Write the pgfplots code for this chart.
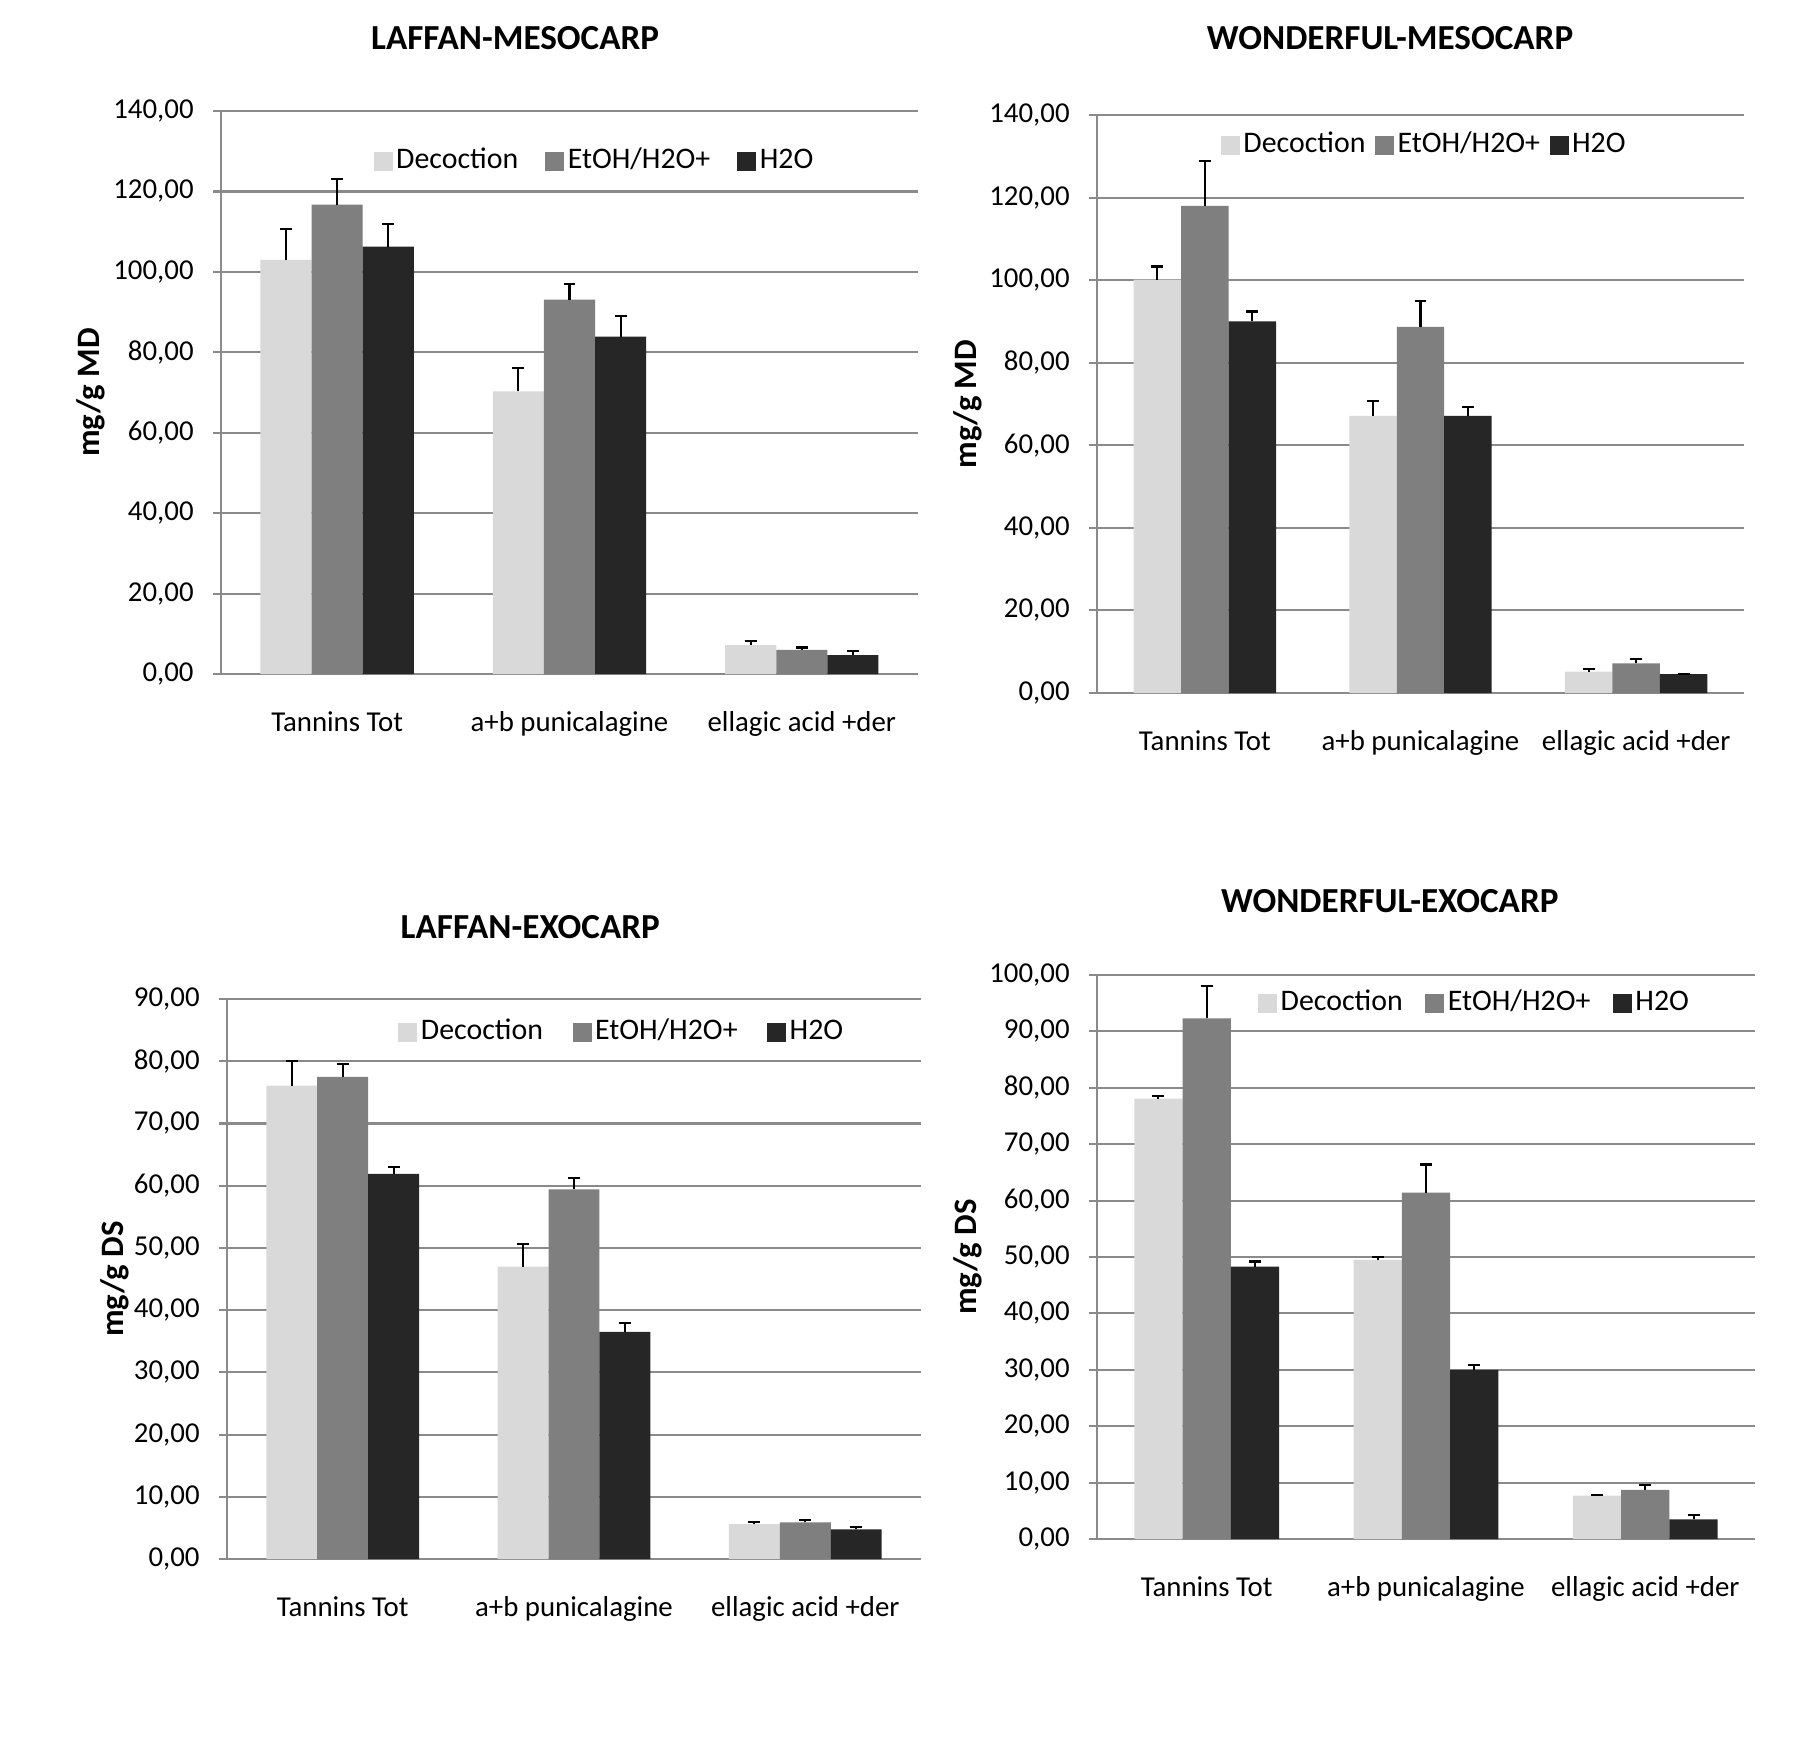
\documentclass[border=0pt]{standalone}
\usepackage{pgfplots}
\pgfplotsset{compat=1.18}
\usepackage{fontspec}
\setmainfont{Carlito}
\definecolor{gridc}{HTML}{8A8A8A}
\definecolor{cdec}{HTML}{D9D9D9}
\definecolor{ceto}{HTML}{7F7F7F}
\definecolor{cwat}{HTML}{262626}
\pgfplotsset{
  mystyle/.style={
    scale only axis,
    xmin=-0.5, xmax=2.5, ymin=0, enlargelimits=false,
    xtick={0,1,2}, xticklabels={Tannins Tot, a+b punicalagine, ellagic acid +der},
    axis x line*=bottom, axis y line*=left,
    axis line style={draw=gridc, line width=0.6pt, -},
    ymajorgrids, grid style={draw=gridc, line width=0.6pt},
    xtick style={draw=none}, ytick style={draw=gridc, line width=0.6pt},
    tick align=outside, major tick length=0.8mm,
    yticklabel style={/pgf/number format/fixed, /pgf/number format/fixed zerofill,
      /pgf/number format/precision=2, /pgf/number format/use comma,
      /pgf/number format/1000 sep={}, /pgf/number format/assume math mode=true,
      font=\fontsize{8.2}{10}\selectfont, xshift=-0.7mm},
    xticklabel style={font=\fontsize{8.2}{10}\selectfont, yshift=-1.7mm},
    ylabel style={font=\bfseries\fontsize{9.3}{11}\selectfont, rotate=0},
    title style={font=\bfseries\fontsize{10}{12}\selectfont, anchor=center},
    ybar, bar width=0.22,
    error bars/y dir=plus, error bars/y explicit,
    error bars/error bar style={line width=0.6pt, black},
    error bars/error mark options={rotate=90, mark size=1.7pt, line width=0.6pt, black},
    legend columns=3,
    legend image code/.code={\fill[##1] (0pt,-2.7pt) rectangle (5.4pt,2.7pt);},
    legend style={draw=none, fill=none, anchor=center,
      font=\fontsize{8.5}{10}\selectfont, nodes={inner xsep=1pt}},
  },
  pdec/.style={fill=cdec, draw=none, bar shift=-0.22},
  peto/.style={fill=ceto, draw=none, bar shift=0},
  pwat/.style={fill=cwat, draw=none, bar shift=0.22},
}
\begin{document}
\begin{tikzpicture}
\useasboundingbox[fill=white] (0,0) rectangle (17.94cm,-17.57cm);
% Top-left
\begin{axis}[mystyle, at={(2.21cm,-6.74cm)}, anchor=south west,
  width=6.97cm, height=5.63cm, ymax=140, ytick={0,20,...,140},
  title={LAFFAN-MESOCARP}, title style={at={(axis description cs:0.422,1)}, yshift=5.2mm},
  ylabel={mg/g MD}, ylabel style={at={(axis description cs:-0.187,0.5)}, anchor=center},
  legend style={at={(axis description cs:0.537,0.911)},
    /tikz/every even column/.append style={column sep=2.35mm}}]
\addplot[pdec] coordinates {(0,103.0) +- (0,7.6) (1,70.3) +- (0,5.8) (2,7.2) +- (0,0.9)};
\addplot[peto] coordinates {(0,116.7) +- (0,6.3) (1,93.1) +- (0,3.8) (2,6.0) +- (0,0.6)};
\addplot[pwat] coordinates {(0,106.3) +- (0,5.5) (1,83.9) +- (0,5.1) (2,4.7) +- (0,1.1)};
\legend{Decoction, EtOH/H2O+, H2O}
\end{axis}
% Top-right
\begin{axis}[mystyle, at={(10.97cm,-6.93cm)}, anchor=south west,
  width=6.47cm, height=5.78cm, ymax=140, ytick={0,20,...,140},
  title={WONDERFUL-MESOCARP}, title style={at={(axis description cs:0.453,1)}, yshift=5.6mm},
  ylabel={mg/g MD}, ylabel style={at={(axis description cs:-0.199,0.5)}, anchor=center},
  legend style={at={(axis description cs:0.507,0.948)},
    /tikz/every even column/.append style={column sep=0.6mm}}]
\addplot[pdec] coordinates {(0,100.1) +- (0,3.2) (1,67.1) +- (0,3.7) (2,5.2) +- (0,0.6)};
\addplot[peto] coordinates {(0,118.0) +- (0,10.8) (1,88.7) +- (0,6.2) (2,7.2) +- (0,1.0)};
\addplot[pwat] coordinates {(0,90.0) +- (0,2.4) (1,67.1) +- (0,2.2) (2,4.6) +- (0,0.1)};
\legend{Decoction, EtOH/H2O+, H2O}
\end{axis}
% Bottom-left
\begin{axis}[mystyle, at={(2.27cm,-15.59cm)}, anchor=south west,
  width=6.94cm, height=5.60cm, ymax=90, ytick={0,10,...,90},
  title={LAFFAN-EXOCARP}, title style={at={(axis description cs:0.437,1)}, yshift=5.1mm},
  ylabel={mg/g DS}, ylabel style={at={(axis description cs:-0.161,0.5)}, anchor=center},
  legend style={at={(axis description cs:0.570,0.941)},
    /tikz/every even column/.append style={column sep=2.6mm}}]
\addplot[pdec] coordinates {(0,76.1) +- (0,3.9) (1,47.0) +- (0,3.7) (2,5.6) +- (0,0.3)};
\addplot[peto] coordinates {(0,77.5) +- (0,2.0) (1,59.4) +- (0,1.9) (2,5.9) +- (0,0.4)};
\addplot[pwat] coordinates {(0,61.9) +- (0,1.1) (1,36.5) +- (0,1.5) (2,4.75) +- (0,0.35)};
\legend{Decoction, EtOH/H2O+, H2O}
\end{axis}
% Bottom-right
\begin{axis}[mystyle, at={(10.97cm,-15.39cm)}, anchor=south west,
  width=6.58cm, height=5.64cm, ymax=100, ytick={0,10,...,100},
  title={WONDERFUL-EXOCARP}, title style={at={(axis description cs:0.445,1)}, yshift=5.3mm},
  ylabel={mg/g DS}, ylabel style={at={(axis description cs:-0.196,0.5)}, anchor=center},
  legend style={at={(axis description cs:0.575,0.950)},
    /tikz/every even column/.append style={column sep=1.9mm}}]
\addplot[pdec] coordinates {(0,78.1) +- (0,0.5) (1,49.5) +- (0,0.5) (2,7.7) +- (0,0.1)};
\addplot[peto] coordinates {(0,92.3) +- (0,5.8) (1,61.4) +- (0,5.0) (2,8.7) +- (0,0.8)};
\addplot[pwat] coordinates {(0,48.3) +- (0,0.9) (1,30.0) +- (0,0.9) (2,3.5) +- (0,0.8)};
\legend{Decoction, EtOH/H2O+, H2O}
\end{axis}
\end{tikzpicture}
\end{document}
